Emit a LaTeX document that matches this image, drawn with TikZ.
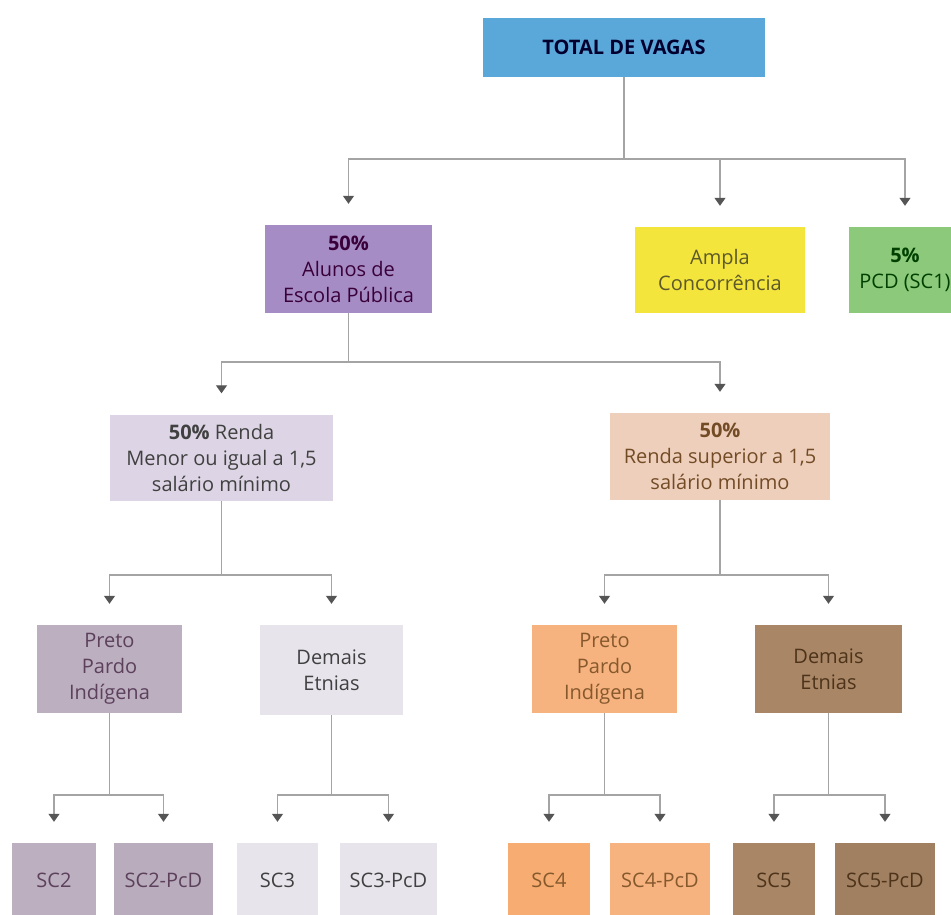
\documentclass[tikz,border=0pt]{standalone}
\usepackage{fontspec}
\setmainfont{Open Sans}
\usepackage{tikz}
\usetikzlibrary{arrows.meta}

\definecolor{linegray}{HTML}{A4A4A4}
\definecolor{tipgray}{HTML}{555555}
\definecolor{totfill}{HTML}{5AA7DA}
\definecolor{alufill}{HTML}{A68CC4}
\definecolor{ampfill}{HTML}{F4E53C}
\definecolor{pcdfill}{HTML}{8CC97A}
\definecolor{renAfill}{HTML}{DDD5E5}
\definecolor{renBfill}{HTML}{EDCFBC}
\definecolor{preAfill}{HTML}{BCAFC0}
\definecolor{demAfill}{HTML}{E8E4EC}
\definecolor{preBfill}{HTML}{F6B27F}
\definecolor{demBfill}{HTML}{A98666}

\begin{document}
\begin{tikzpicture}[x=1pt, y=-1pt, font=\fontsize{20}{26}\selectfont,
		box/.style={rectangle, align=center, inner sep=0pt},
		line/.style={draw=linegray, line width=1.2pt},
		arr/.style={line, -{Triangle[width=11pt, length=8pt, color=tipgray]}, shorten >=21pt}]
		\useasboundingbox (0, 0) rectangle (951, 914);
		
		\node[box, fill=totfill, text=black!70!blue!60!black, minimum width=282, minimum height=59, font=\fontsize{20}{26}\selectfont\bfseries] (tot) at (624, 47.5) {TOTAL DE VAGAS};
		
		\node[box, fill=alufill, text=violet!45!black, minimum width=167, minimum height=88] (alu) at (348.5, 269) {\textbf{50\%}\\Alunos de\\Escola Pública};
		\node[box, fill=ampfill, text=olive!55!black, minimum width=170, minimum height=86] (amp) at (720, 270) {Ampla\\Concorrência};
		\node[box, fill=pcdfill, text=green!25!black, minimum width=112, minimum height=86] (pcd) at (905, 270) {\textbf{5\%}\\PCD (SC1)};
		
		\node[box, fill=renAfill, text=black!75, minimum width=223, minimum height=86] (renA) at (221.5, 457.5) {\textbf{50\%} Renda\\Menor ou igual a 1,5\\salário mínimo};
		\node[box, fill=renBfill, text=brown!60!black, minimum width=220, minimum height=87] (renB) at (720, 456.5) {\textbf{50\%}\\Renda superior a 1,5\\salário mínimo};
		
		\node[box, fill=preAfill, text=violet!30!black!75, minimum width=145, minimum height=88] (preA) at (109.5, 669) {Preto\\Pardo\\Indígena};
		\node[box, fill=demAfill, text=black!75, minimum width=143, minimum height=90] (demA) at (331.5, 670) {Demais\\Etnias};
		\node[box, fill=preBfill, text=brown!70!black, minimum width=145, minimum height=88] (preB) at (604.5, 669) {Preto\\Pardo\\Indígena};
		\node[box, fill=demBfill, text=brown!40!black, minimum width=147, minimum height=88] (demB) at (828.5, 669) {Demais\\Etnias};
		
		\node[box, fill=preAfill, text=violet!30!black!75, minimum width=84, minimum height=74] (sc2) at (54, 880) {SC2};
		\node[box, fill=preAfill!95!gray, text=violet!30!black!75, minimum width=99, minimum height=74] (sc2p) at (163.5, 880) {SC2-PcD};
		\node[box, fill=demAfill, text=black!75, minimum width=81, minimum height=74] (sc3) at (277.5, 880) {SC3};
		\node[box, fill=demAfill, text=black!75, minimum width=97, minimum height=74] (sc3p) at (388.5, 880) {SC3-PcD};
		\node[box, fill=preBfill!90!orange, text=brown!70!black, minimum width=82, minimum height=74] (sc4) at (549, 880) {SC4};
		\node[box, fill=preBfill, text=brown!70!black, minimum width=100, minimum height=74] (sc4p) at (660, 880) {SC4-PcD};
		\node[box, fill=demBfill, text=brown!40!black, minimum width=82, minimum height=74] (sc5) at (774, 880) {SC5};
		\node[box, fill=demBfill!95!black, text=brown!40!black, minimum width=100, minimum height=74] (sc5p) at (885, 880) {SC5-PcD};
		
		% junctions
		\coordinate (j0) at (624, 159);
		\coordinate (j1) at (348.5, 362);
		\coordinate (j2) at (221.5, 575);
		\coordinate (j3) at (720, 575);
		\coordinate (j4) at (109.5, 795);
		\coordinate (j5) at (331.5, 795);
		\coordinate (j6) at (604.5, 795);
		\coordinate (j7) at (828.5, 795);
		
		\draw[line] (tot.south) -- (j0);
		\draw[arr] (j0) -| (alu.north);
		\draw[arr] (j0) -| (amp.north);
		\draw[arr] (j0) -| (pcd.north);
		
		\draw[line] (alu.south) -- (j1);
		\draw[arr] (j1) -| (renA.north);
		\draw[arr] (j1) -| (renB.north);
		
		\draw[line] (renA.south) -- (j2);
		\draw[arr] (j2) -| (preA.north);
		\draw[arr] (j2) -| (demA.north);
		\draw[line] (renB.south) -- (j3);
		\draw[arr] (j3) -| (preB.north);
		\draw[arr] (j3) -| (demB.north);
		
		\draw[line] (preA.south) -- (j4);
		\draw[arr] (j4) -| (sc2.north);
		\draw[arr] (j4) -| (sc2p.north);
		\draw[line] (demA.south) -- (j5);
		\draw[arr] (j5) -| (sc3.north);
		\draw[arr] (j5) -| (sc3p.north);
		\draw[line] (preB.south) -- (j6);
		\draw[arr] (j6) -| (sc4.north);
		\draw[arr] (j6) -| (sc4p.north);
		\draw[line] (demB.south) -- (j7);
		\draw[arr] (j7) -| (sc5.north);
		\draw[arr] (j7) -| (sc5p.north);
	\end{tikzpicture}
\end{document}
